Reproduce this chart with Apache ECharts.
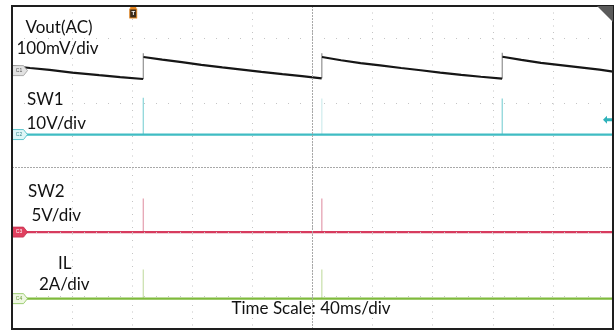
<!DOCTYPE html>
<html>
<head>
<meta charset="utf-8">
<script src="https://cdn.jsdelivr.net/npm/echarts@6/dist/echarts.min.js"></script>
<style>
  html, body { margin: 0; padding: 0; background: #fff; }
  #scope { width: 616px; height: 331px; }
</style>
</head>
<body>
<div id="scope"></div>
<script>
// Horizontal: 10 divisions of 40 ms
const timeSpan = [0, 400];
const timePerDiv = 40;
// Vertical: screen shows 5 divisions, centre at 0
const divRange = [-2.5, 2.5];
const gridRows = [-2, -1, 1, 2];
const centreRow = 0;
const centreTime = 200;

// Channel offsets (divisions from centre) and scales (units per division)
const c1Offset = 1.5,   c1Scale = 100; // Vout, mV/div
const c2Offset = 0.51,  c2Scale = 10;  // SW1, V/div
const c3Offset = -1.0,  c3Scale = 5;   // SW2, V/div
const c4Offset = -2.03, c4Scale = 2;   // IL, A/div

// Switching events (ms)
const switchTimes = [87.4, 206.2, 326.3];

// Vout (AC coupled) ripple, [ms, mV], one array per discharge interval
const voutSeg1 = [[0, 7], [12, 4], [25, 1], [40, -3], [58, -7], [72, -10], [87.3, -13]];
const voutSeg2 = [[87.5, 21], [100, 17], [113, 13], [126, 9], [140, 5], [153, 1.5], [166, -2], [180, -5.5], [193, -8.5], [206.1, -12]];
const voutSeg3 = [[206.3, 21], [219, 16], [232, 11.5], [245, 8], [259, 4], [272, 0.5], [285, -3], [299, -6.5], [312, -9.5], [326.2, -12.5]];
const voutSeg4 = [[326.4, 21.5], [339, 16.5], [352, 12], [365, 8.5], [378, 5], [391, 1.5], [400, -1.5]];
// Vout overshoot at each switching edge, mV
const voutPeak = [27, 27, 27.5];

// Switch-node and inductor-current spikes, [ms, height]
const sw1Pulses = [[87.4, 5.7], [326.3, 5.6]];   // V
const sw1FaintPulses = [[206.2, 5.6]];           // V
const sw2Pulses = [[87.4, 2.6], [206.2, 2.6]];   // V
const ilPulses = [[87.4, 0.9], [206.2, 0.9]];    // A
// SW1 trigger level, V above the channel ground
const c2TriggerLevel = 2.3;
// Trigger time, ms
const triggerTime = 80.7;

const labels = [
  { text: 'Vout(AC)', x: 25.5, base: 33.3 },
  { text: '100mV/div', x: 16.5, base: 55 },
  { text: 'SW1', x: 27, base: 106 },
  { text: '10V/div', x: 26.5, base: 130 },
  { text: 'SW2', x: 28, base: 197.5 },
  { text: '5V/div', x: 31.5, base: 221.7 },
  { text: 'IL', x: 58, base: 269.3 },
  { text: '2A/div', x: 39, base: 291 },
  { text: 'Time Scale: 40ms/div', x: 231.5, base: 314.3 }
];

const FONT_SIZE = 17;
const FONT = FONT_SIZE + 'px Lato, "Open Sans", sans-serif';

// ---- helpers -------------------------------------------------------------
function toDiv(offset, scale) {
  return function (p) { return [p[0], offset + p[1] / scale]; };
}
function joinSegments(segs, map) {
  const out = [];
  segs.forEach(function (s, i) {
    if (i > 0) out.push([s[0][0] - 0.05, '-']);
    s.forEach(function (p) { out.push(map(p)); });
  });
  return out;
}
function spikeData(pulses, offset, scale) {
  const out = [];
  pulses.forEach(function (p) {
    out.push([p[0], offset], [p[0], offset + p[1] / scale], [p[0] + 0.01, '-']);
  });
  return out;
}

const c1Map = toDiv(c1Offset, c1Scale);
const voutSegs = [voutSeg1, voutSeg2, voutSeg3, voutSeg4];
const voutData = joinSegments(voutSegs, c1Map);

const edgeData = [];
switchTimes.forEach(function (t, i) {
  const before = voutSegs[i][voutSegs[i].length - 1][1];
  const after = voutSegs[i + 1][0][1];
  edgeData.push(c1Map([t, before]), c1Map([t, voutPeak[i]]), c1Map([t + 0.1, after]), [t + 0.2, '-']);
});

function flat(offset) { return [[timeSpan[0], offset], [timeSpan[1], offset]]; }

// Channel tag: flat left side, pointed right side
const tagPath = 'path://M0,0 L11,0 L15,5 L11,10 L0,10 Z';
function channelTag(name, offset, fill, stroke, textColor) {
  return {
    symbol: tagPath,
    symbolSize: [15, 10],
    symbolOffset: [8, 0],
    itemStyle: { color: fill, borderColor: stroke, borderWidth: 0.8 },
    label: { show: true, formatter: name, fontSize: 5, color: textColor, offset: [-1, 0] },
    data: [{ coord: [timeSpan[0], offset] }]
  };
}

function trace(name, data, color, width, extra) {
  return Object.assign({
    name: name,
    type: 'line',
    data: data,
    showSymbol: false,
    symbol: 'none',
    silent: true,
    animation: false,
    connectNulls: false,
    lineStyle: { color: color, width: width },
    z: 3
  }, extra || {});
}

const dotted = { color: '#c4c4c4', width: 1, type: [1, 11] };
const centreDash = { color: '#a8a8a8', width: 1, type: [2, 1] };

const chart = echarts.init(document.getElementById('scope'), null, { renderer: 'canvas' });

chart.setOption({
  animation: false,
  backgroundColor: '#ffffff',
  grid: {
    left: 12, right: 3, top: 6, bottom: 2,
    show: true, borderColor: '#1e1e1e', borderWidth: 2, backgroundColor: 'transparent', z: 10
  },
  xAxis: {
    type: 'value', min: timeSpan[0], max: timeSpan[1], interval: timePerDiv,
    axisLine: { show: false }, axisTick: { show: false }, axisLabel: { show: false },
    splitLine: { show: true, lineStyle: { color: '#c4c4c4', width: 1, type: [1, 5.5] } }
  },
  yAxis: {
    type: 'value', min: divRange[0], max: divRange[1],
    axisLine: { show: false }, axisTick: { show: false }, axisLabel: { show: false },
    splitLine: { show: false }
  },
  series: [
    // graticule rows and centre cross
    trace('graticule', [], 'transparent', 0, {
      z: 1,
      markLine: {
        silent: true, symbol: 'none', label: { show: false }, animation: false,
        data: gridRows.map(function (v) { return { yAxis: v, lineStyle: dotted }; })
          .concat([{ yAxis: centreRow, lineStyle: centreDash }, { xAxis: centreTime, lineStyle: centreDash }])
      }
    }),
    // Vout edges (fast transitions drawn faint)
    trace('Vout edge', edgeData, '#9a9a9a', 1.3),
    // Vout
    trace('Vout', voutData, '#161616', 2.2, {
      markPoint: {
        silent: true, animation: false,
        data: [
          {
            coord: [triggerTime, divRange[1]], symbol: 'rect', symbolSize: [7, 9], symbolOffset: [0, 7.5],
            itemStyle: { color: '#3a2a1a', borderColor: '#e8871e', borderWidth: 1 },
            label: { show: true, formatter: 'T', color: '#ffffff', fontSize: 6, fontWeight: 'bold', position: 'inside' }
          },
          {
            coord: [triggerTime, divRange[1]], symbol: 'rect', symbolSize: [6, 2], symbolOffset: [0, 2],
            itemStyle: { color: '#e8871e' }, label: { show: false }
          }
        ]
      }
    }),
    trace('C1 tag', [], 'transparent', 0, { markPoint: channelTag('C1', c1Offset, '#e2e2e2', '#9a9a9a', '#555') }),
    // SW1
    trace('SW1 spikes', spikeData(sw1Pulses, c2Offset, c2Scale), '#96d9dc', 1.4),
    trace('SW1 faint spikes', spikeData(sw1FaintPulses, c2Offset, c2Scale), '#d6eff0', 1.4),
    trace('SW1', flat(c2Offset), '#3fbcc3', 2.2, {
      markPoint: Object.assign(channelTag('C2', c2Offset, '#dff6f7', '#3fbcc3', '#3a8a8e'), {
        data: [
          { coord: [timeSpan[0], c2Offset] },
          {
            coord: [timeSpan[1], c2Offset + c2TriggerLevel / c2Scale],
            symbol: 'path://M0,4 L4,0 L4,2.5 L9,2.5 L9,5.5 L4,5.5 L4,8 Z',
            symbolSize: [9, 8], symbolOffset: [-5.5, 0],
            itemStyle: { color: '#2fb2ba', borderWidth: 0 }, label: { show: false }
          }
        ]
      })
    }),
    // SW2
    trace('SW2 spikes', spikeData(sw2Pulses, c3Offset, c3Scale), '#e7aab8', 1.4),
    trace('SW2', flat(c3Offset), '#d73b5e', 2.2, {
      markPoint: channelTag('C3', c3Offset, '#e0405f', '#c4304f', '#ffffff')
    }),
    // IL
    trace('IL spikes', spikeData(ilPulses, c4Offset, c4Scale), '#cfe3b5', 1.4),
    trace('IL', flat(c4Offset), '#7fba3c', 2.4, {
      markPoint: channelTag('C4', c4Offset, '#eef7e2', '#8cc45a', '#6a9a3a')
    })
  ],
  graphic: labels.map(function (l) {
    return {
      type: 'text', silent: true, z: 20,
      x: l.x, y: l.base - Math.round(FONT_SIZE * 0.34),
      style: { text: l.text, font: FONT, fill: '#111111', align: 'left', verticalAlign: 'middle' }
    };
  }).concat([
    {
      type: 'polygon', silent: true, z: 20,
      right: 3, top: 6,
      shape: { points: [[0, 0], [16, 0], [16, 16]] },
      style: { fill: '#5a5a5a' }
    }
  ])
});
</script>
</body>
</html>
